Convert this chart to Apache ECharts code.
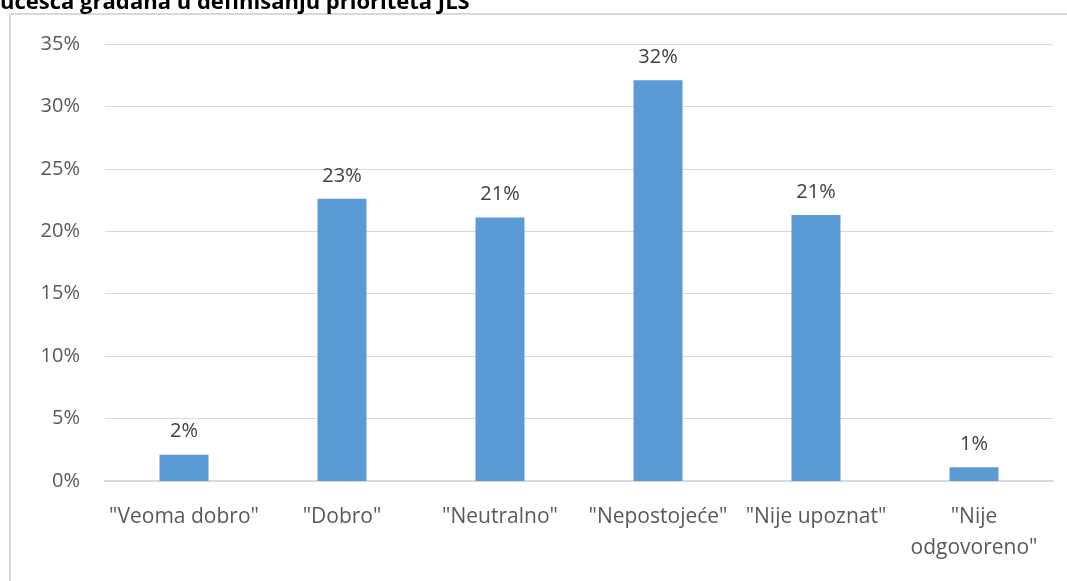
<!DOCTYPE html>
<html>
<head>
<meta charset="utf-8">
<script src="https://cdn.jsdelivr.net/npm/echarts@6/dist/echarts.min.js"></script>
<style>
  html, body { margin: 0; padding: 0; background: #fff; }
  #chart-container { width: 1067px; height: 581px; }
</style>
</head>
<body>
<div id="chart-container"></div>
<script>
const titleText = 'učešća građana u definisanju prioriteta JLS';
const categories = ['"Veoma dobro"', '"Dobro"', '"Neutralno"', '"Nepostojeće"', '"Nije upoznat"', '"Nije\nodgovoreno"'];
const shares = [2.1, 22.6, 21.1, 32.1, 21.3, 1.1];
const yTicks = { min: 0, max: 35, step: 5 };

const chartDom = document.getElementById('chart-container');
const myChart = echarts.init(chartDom, null, { renderer: 'canvas' });

const fontFamily = '"Open Sans", sans-serif';

const option = {
    animation: false,
    backgroundColor: '#ffffff',
    title: {
        text: titleText,
        left: 0,
        top: -8,
        padding: 0,
        textStyle: {
            fontFamily: fontFamily,
            fontSize: 22,
            fontWeight: 'bold',
            color: '#000000'
        }
    },
    // the chart area border, its right and bottom sides fall outside the window
    graphic: [{
        type: 'rect',
        shape: { x: 10, y: 14, width: 1080, height: 600 },
        style: { fill: null, stroke: '#d9d9d9', lineWidth: 2 },
        silent: true,
        z: -1
    }],
    grid: {
        left: 105,
        right: 14,
        top: 44,
        bottom: 100,
        containLabel: false
    },
    xAxis: {
        type: 'category',
        data: categories,
        axisLine: { lineStyle: { color: '#d9d9d9', width: 2 } },
        axisTick: { show: false },
        axisLabel: {
            interval: 0,
            margin: 21,
            fontFamily: fontFamily,
            fontSize: 21,
            lineHeight: 31,
            color: '#595959',
            align: 'center'
        }
    },
    yAxis: {
        type: 'value',
        min: yTicks.min,
        max: yTicks.max,
        interval: yTicks.step,
        axisLine: { show: false },
        axisTick: { show: false },
        splitLine: { lineStyle: { color: '#d9d9d9', width: 1 } },
        axisLabel: {
            formatter: '{value}%',
            margin: 25,
            fontFamily: fontFamily,
            fontSize: 20,
            color: '#595959'
        }
    },
    series: [{
        type: 'bar',
        data: shares,
        barWidth: '31%',
        itemStyle: { color: '#5b9bd5' },
        label: {
            show: true,
            position: 'top',
            distance: 13,
            fontFamily: fontFamily,
            fontSize: 20,
            color: '#404040',
            formatter: function (p) {
                return Math.round(p.value) + '%';
            }
        }
    }]
};

myChart.setOption(option);
</script>
</body>
</html>
